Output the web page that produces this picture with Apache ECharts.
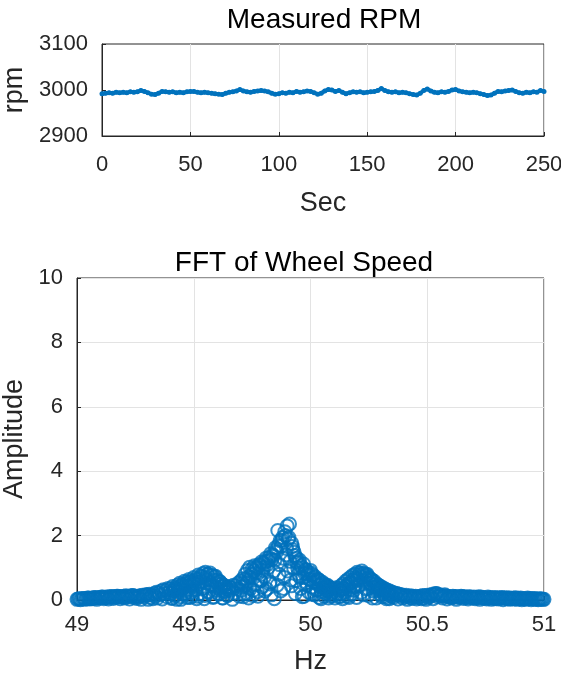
<!DOCTYPE html>
<html>
<head>
<meta charset="utf-8">
<script src="https://cdn.jsdelivr.net/npm/echarts@6/dist/echarts.min.js"></script>
<style>
  html, body { margin: 0; padding: 0; background: #fff; }
  #chart { width: 561px; height: 677px; }
</style>
</head>
<body>
<div id="chart"></div>
<script>
// measured rpm, one value every 2 s from 0 to 250 s
const rpmStep = 2;
const rpmValues = [
  2992, 2993, 2994, 2993, 2995, 2994, 2995, 2994, 2996, 2995,
  2996, 2999, 2997, 2994, 2991, 2990, 2993, 2997, 2996, 2995,
  2996, 2994, 2995, 2994, 2996, 2997, 2997, 2995, 2994, 2995,
  2994, 2993, 2992, 2991, 2990, 2993, 2995, 2996, 2998, 3001,
  2998, 2996, 2995, 2997, 2998, 2999, 2998, 2996, 2993, 2991,
  2992, 2994, 2993, 2995, 2994, 2997, 2995, 2996, 2998, 2997,
  2994, 2991, 2993, 2998, 3001, 3000, 2997, 2999, 2995, 2992,
  2994, 2996, 2995, 2996, 2994, 2995, 2996, 2997, 2999, 3003,
  2999, 2996, 2995, 2996, 2994, 2995, 2994, 2992, 2990, 2989,
  2993, 2999, 3002, 2998, 2995, 2994, 2996, 2995, 2997, 3000,
  3001, 2998, 2996, 2995, 2994, 2995, 2994, 2992, 2990, 2988,
  2989, 2993, 2997, 2996, 2998, 2999, 3000, 2997, 2994, 2993,
  2995, 2994, 2996, 2995, 2999, 2997
];
const secTicks = [0, 50, 100, 150, 200, 250];
const rpmTicks = [2900, 3000, 3100];

// FFT amplitude, bins every 0.01 Hz from 49 Hz
const fftStep = 0.01;
const fftStart = 49;
const fftAmp = [
  0.02, 0.04, 0.03, 0.05, 0.04, 0.06, 0.05, 0.07, 0.06, 0.08,
  0.07, 0.09, 0.08, 0.10, 0.09, 0.11, 0.10, 0.12, 0.11, 0.10,
  0.12, 0.13, 0.11, 0.12, 0.14, 0.12, 0.10, 0.13, 0.15, 0.14,
  0.16, 0.18, 0.15, 0.20, 0.24, 0.22, 0.28, 0.32, 0.30, 0.36,
  0.34, 0.42, 0.38, 0.46, 0.52, 0.48, 0.58, 0.55, 0.64, 0.60,
  0.70, 0.66, 0.78, 0.74, 0.82, 0.86, 0.80, 0.84, 0.76, 0.72,
  0.62, 0.58, 0.50, 0.44, 0.40, 0.42, 0.38, 0.46, 0.44, 0.52,
  0.58, 0.66, 0.80, 0.92, 1.02, 0.96, 1.06, 0.98, 1.10, 1.18,
  1.02, 1.30, 1.22, 1.44, 1.36, 1.62, 2.16, 1.84, 1.94, 2.12,
  2.30, 2.36, 1.76, 1.48, 1.30, 1.18, 1.06, 1.12, 0.94, 0.86,
  0.92, 0.78, 0.72, 0.64, 0.60, 0.52, 0.48, 0.44, 0.40, 0.36,
  0.34, 0.38, 0.36, 0.44, 0.50, 0.58, 0.64, 0.70, 0.76, 0.80,
  0.86, 0.84, 0.90, 0.82, 0.78, 0.70, 0.64, 0.56, 0.50, 0.46,
  0.42, 0.38, 0.34, 0.30, 0.28, 0.24, 0.22, 0.20, 0.18, 0.16,
  0.14, 0.15, 0.12, 0.13, 0.11, 0.12, 0.10, 0.12, 0.14, 0.13,
  0.15, 0.14, 0.18, 0.16, 0.20, 0.17, 0.14, 0.12, 0.13, 0.11,
  0.10, 0.12, 0.11, 0.10, 0.09, 0.11, 0.10, 0.09, 0.10, 0.08,
  0.09, 0.08, 0.10, 0.09, 0.08, 0.07, 0.09, 0.08, 0.07, 0.08,
  0.07, 0.06, 0.08, 0.07, 0.06, 0.07, 0.05, 0.06, 0.07, 0.05,
  0.06, 0.05, 0.04, 0.06, 0.05, 0.04, 0.05, 0.03, 0.04, 0.03,
  0.02
];
// in-between bins, from 49.005 Hz
const fftMidStart = 49.005;
const fftMidAmp = [
  0.03, 0.01, 0.05, 0.02, 0.06, 0.03, 0.04, 0.08, 0.02, 0.06,
  0.09, 0.04, 0.07, 0.03, 0.10, 0.05, 0.08, 0.12, 0.04, 0.09,
  0.06, 0.11, 0.03, 0.14, 0.08, 0.05, 0.12, 0.02, 0.10, 0.16,
  0.02, 0.08, 0.04, 0.12, 0.06, 0.16, 0.03, 0.20, 0.10, 0.24,
  0.05, 0.28, 0.14, 0.32, 0.02, 0.38, 0.20, 0.44, 0.08, 0.30,
  0.50, 0.12, 0.56, 0.34, 0.04, 0.62, 0.24, 0.48, 0.10, 0.40,
  0.20, 0.32, 0.06, 0.26, 0.14, 0.30, 0.02, 0.22, 0.34, 0.12,
  0.40, 0.18, 0.52, 0.06, 0.70, 0.30, 0.84, 0.12, 0.60, 0.92,
  0.28, 1.10, 0.50, 1.26, 0.04, 1.50, 0.80, 1.68, 0.36, 1.40,
  1.88, 0.62, 1.56, 0.20, 1.00, 0.70, 0.10, 0.82, 0.46, 0.64,
  0.18, 0.56, 0.30, 0.46, 0.04, 0.38, 0.22, 0.28, 0.12, 0.24,
  0.06, 0.20, 0.30, 0.12, 0.34, 0.40, 0.08, 0.52, 0.30, 0.62,
  0.44, 0.72, 0.16, 0.66, 0.36, 0.52, 0.06, 0.40, 0.28, 0.34,
  0.10, 0.26, 0.04, 0.20, 0.14, 0.08, 0.18, 0.03, 0.12, 0.06,
  0.10, 0.02, 0.08, 0.05, 0.09, 0.03, 0.07, 0.04, 0.06, 0.02,
  0.08, 0.12, 0.04, 0.20, 0.10, 0.14, 0.06, 0.16, 0.03, 0.09,
  0.06, 0.10, 0.02, 0.08, 0.12, 0.05, 0.07, 0.03, 0.09, 0.06,
  0.04, 0.08, 0.02, 0.07, 0.05, 0.03, 0.06, 0.02, 0.05, 0.04,
  0.03, 0.06, 0.01, 0.05, 0.04, 0.02, 0.05, 0.03, 0.02, 0.04,
  0.01, 0.03, 0.02, 0.04, 0.01, 0.03, 0.02, 0.01, 0.03, 0.02
];
// finer bins, every 0.005 Hz, round the three peaks
const fineStep = 0.005;
const fftLeftStart = 49.4025;
const fftLeftAmp = [
  0.20, 0.06, 0.30, 0.14, 0.36, 0.02, 0.26, 0.40, 0.10, 0.34,
  0.46, 0.18, 0.30, 0.50, 0.08, 0.42, 0.56, 0.24, 0.12, 0.52,
  0.60, 0.32, 0.04, 0.48, 0.66, 0.20, 0.58, 0.72, 0.38, 0.14,
  0.68, 0.80, 0.26, 0.54, 0.76, 0.44, 0.08, 0.62, 0.74, 0.30,
  0.50, 0.18, 0.56, 0.40, 0.06, 0.46, 0.28, 0.36, 0.14, 0.32
];
const fftCoreStart = 49.7025;
const fftCoreAmp = [
  0.30, 0.52, 0.10, 0.44, 0.66, 0.20, 0.58, 0.72, 0.36, 0.80,
  0.14, 0.90, 0.48, 1.02, 0.26, 0.84, 1.08, 0.60, 0.40, 1.14,
  0.72, 1.20, 0.34, 1.00, 1.32, 0.56, 0.16, 1.40, 0.90, 1.24,
  1.56, 0.46, 1.70, 1.10, 0.28, 1.86, 1.30, 0.70, 2.00, 1.60,
  0.90, 1.94, 1.20, 0.44, 1.66, 1.00, 1.38, 0.60, 1.16, 0.82,
  1.24, 0.36, 1.00, 0.70, 0.12, 0.94, 0.54, 0.80, 0.24, 0.66,
  0.84, 0.40, 0.70, 0.16, 0.58, 0.32, 0.64, 0.08, 0.48, 0.26,
  0.54, 0.12, 0.40, 0.30, 0.46, 0.06, 0.36, 0.20, 0.28, 0.14
];
const fftRightStart = 50.1225;
const fftRightAmp = [
  0.10, 0.30, 0.20, 0.04, 0.36, 0.26, 0.44, 0.12, 0.50, 0.32,
  0.56, 0.18, 0.62, 0.40, 0.70, 0.08, 0.66, 0.78, 0.48, 0.24,
  0.82, 0.60, 0.74, 0.34, 0.80, 0.14, 0.68, 0.52, 0.62, 0.28,
  0.58, 0.40, 0.06, 0.48, 0.30, 0.42, 0.16, 0.36, 0.22, 0.30,
  0.10, 0.26, 0.18, 0.04, 0.20, 0.12
];
const hzTicks = [49, 49.5, 50, 50.5, 51];
const ampTicks = [0, 2, 4, 6, 8, 10];

const blue = '#0072BD';
const ink = '#262626';
const font = 'Liberation Sans, Arial, sans-serif';

const rpmData = rpmValues.map((v, i) => [i * rpmStep, v]);
const toPoints = (amps, start, step) => amps.map((a, i) => [+(start + i * step).toFixed(4), a]);
const fftData = toPoints(fftAmp, fftStart, fftStep)
  .concat(toPoints(fftMidAmp, fftMidStart, fftStep))
  .concat(toPoints(fftLeftAmp, fftLeftStart, fineStep))
  .concat(toPoints(fftCoreAmp, fftCoreStart, fineStep))
  .concat(toPoints(fftRightAmp, fftRightStart, fineStep));

function axisBase(ticks) {
  return {
    type: 'value',
    min: ticks[0],
    max: ticks[ticks.length - 1],
    interval: ticks[1] - ticks[0],
    axisLine: { show: true, onZero: false, lineStyle: { color: ink, width: 1 } },
    axisTick: { show: true, inside: true, length: 4, lineStyle: { color: ink } },
    axisLabel: { color: ink, fontSize: 22, fontFamily: font, margin: 14, formatter: v => String(v) },
    splitLine: { show: true, lineStyle: { color: '#e3e3e3', width: 1 } },
    nameLocation: 'middle',
    nameTextStyle: { color: ink, fontSize: 27, fontFamily: font }
  };
}

const myChart = echarts.init(document.getElementById('chart'));

const option = {
  animation: false,
  title: [
    {
      text: 'Measured RPM',
      left: 324,
      top: 6,
      padding: 0,
      textAlign: 'center',
      textStyle: { color: '#000', fontSize: 28, fontWeight: 'normal', fontFamily: font }
    },
    {
      text: 'FFT of Wheel Speed',
      left: 304,
      top: 249,
      padding: 0,
      textAlign: 'center',
      textStyle: { color: '#000', fontSize: 28, fontWeight: 'normal', fontFamily: font }
    }
  ],
  grid: [
    {
      left: 102, top: 44, width: 442, height: 92, outerBoundsMode: 'none', containLabel: false,
      show: true, borderColor: ink, borderWidth: 1, backgroundColor: 'transparent'
    },
    {
      left: 77, top: 278, width: 467, height: 322, outerBoundsMode: 'none', containLabel: false,
      show: true, borderColor: ink, borderWidth: 1, backgroundColor: 'transparent'
    }
  ],
  xAxis: [
    Object.assign(axisBase(secTicks), {
      gridIndex: 0, name: 'Sec', nameGap: 54,
      axisLabel: { color: ink, fontSize: 22, fontFamily: font, margin: 18 }
    }),
    Object.assign(axisBase(hzTicks), {
      gridIndex: 1, name: 'Hz', nameGap: 48,
      axisLabel: { color: ink, fontSize: 22, fontFamily: font, margin: 14 }
    })
  ],
  yAxis: [
    Object.assign(axisBase(rpmTicks), {
      gridIndex: 0, name: 'rpm', nameGap: 57,
      splitLine: { show: false }
    }),
    Object.assign(axisBase(ampTicks), {
      gridIndex: 1, name: 'Amplitude', nameGap: 43
    })
  ],
  series: [
    {
      type: 'line',
      xAxisIndex: 0,
      yAxisIndex: 0,
      data: rpmData,
      symbol: 'circle',
      symbolSize: 5,
      showSymbol: true,
      itemStyle: { color: blue },
      lineStyle: { color: blue, width: 4 }
    },
    {
      type: 'scatter',
      xAxisIndex: 1,
      yAxisIndex: 1,
      data: fftData,
      clip: false,
      symbol: 'circle',
      symbolSize: 13,
      itemStyle: { color: 'transparent', borderColor: blue, borderWidth: 2 }
    }
  ]
};

myChart.setOption(option);
</script>
</body>
</html>
